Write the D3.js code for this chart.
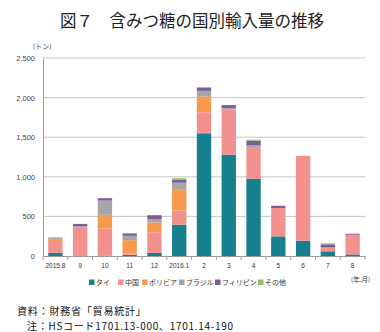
<!DOCTYPE html>
<html>
<head>
<meta charset="utf-8">
<script src="https://cdn.jsdelivr.net/npm/d3@7"></script>
<style>
  body { margin: 0; background: #fff; }
  svg { display: block; font-family: "Noto Sans CJK JP", "Noto Sans", sans-serif; }
</style>
</head>
<body>
<svg id="chart"></svg>
<script>
const months = ["2015.8", "9", "10", "11", "12", "2016.1", "2", "3", "4", "5", "6", "7", "8"]
const seriesNames = ["タイ", "中国", "ボリビア", "ブラジル", "フィリピン", "その他"]
const seriesColors = ["#17808f", "#f3918e", "#f79a4e", "#a6a6a6", "#7d5c9b", "#8fc06a"]
const thai     = [40, 0, 5, 15, 40, 395, 1550, 1280, 975, 248, 193, 59, 20]
const china    = [150, 365, 340, 15, 260, 180, 265, 567, 400, 357, 1071, 42, 248]
const bolivia  = [15, 0, 175, 170, 125, 260, 200, 0, 0, 0, 0, 0, 0]
const brazil   = [15, 10, 180, 55, 40, 90, 70, 20, 25, 0, 0, 12, 0]
const philip   = [5, 30, 30, 30, 50, 38, 40, 38, 58, 29, 0, 34, 13]
const others   = [10, 0, 0, 5, 0, 20, 10, 0, 10, 0, 0, 13, 0]
const yTicks = [0, 500, 1000, 1500, 2000, 2500]

const width = 380, height = 332
const margin = {left: 43, right: 15, top: 58, bottom: 76}

const svg = d3.select("#chart").attr("width", width).attr("height", height)

const rows = months.map((m, i) => ({
  month: m,
  "タイ": thai[i], "中国": china[i], "ボリビア": bolivia[i],
  "ブラジル": brazil[i], "フィリピン": philip[i], "その他": others[i]
}))

const x = d3.scaleBand()
  .domain(months)
  .range([margin.left, width - margin.right])
  .paddingInner(0.42)
  .paddingOuter(0.21)

const y = d3.scaleLinear()
  .domain([0, 2500])
  .range([height - margin.bottom, margin.top])

// title
svg.append("text")
  .attr("x", 192).attr("y", 27)
  .attr("text-anchor", "middle")
  .attr("font-size", 16.5)
  .attr("fill", "#222")
  .text("図７　含みつ糖の国別輸入量の推移")

svg.append("text")
  .attr("x", 33).attr("y", 49)
  .attr("font-size", 7)
  .attr("fill", "#444")
  .text("(トン)")

// gridlines
svg.append("g")
  .selectAll("line")
  .data(yTicks.filter(d => d > 0))
  .enter().append("line")
    .attr("x1", margin.left).attr("x2", width - margin.right)
    .attr("y1", d => y(d)).attr("y2", d => y(d))
    .attr("stroke", "#b8b8b8").attr("stroke-width", 0.8)

// y axis
const yAxis = svg.append("g")
  .attr("transform", "translate(" + margin.left + ",0)")
  .call(d3.axisLeft(y).tickValues(yTicks).tickSize(0).tickPadding(8).tickFormat(d3.format(",")))
yAxis.select(".domain").attr("stroke", "#999")
yAxis.selectAll("text").attr("font-size", 7.5).attr("fill", "#444").attr("font-family", "Liberation Sans, Arial, sans-serif")

// bars
const stack = d3.stack().keys(seriesNames)(rows)
svg.append("g")
  .selectAll("g")
  .data(stack)
  .enter().append("g")
    .attr("fill", (d, i) => seriesColors[i])
  .selectAll("rect")
  .data(d => d)
  .enter().append("rect")
    .attr("x", d => x(d.data.month))
    .attr("y", d => y(d[1]))
    .attr("width", x.bandwidth())
    .attr("height", d => y(d[0]) - y(d[1]))

// x axis
const step = x.step()
const xAxis = svg.append("g")
  .attr("transform", "translate(0," + y(0) + ")")
  .call(d3.axisBottom(x).tickSize(0).tickPadding(7))
xAxis.select(".domain").attr("stroke", "#999")
xAxis.selectAll("text").attr("font-size", 6.5).attr("fill", "#333").attr("font-family", "Liberation Sans, Arial, sans-serif")
xAxis.selectAll(".sep")
  .data(d3.range(months.length + 1))
  .enter().append("line")
    .attr("class", "sep")
    .attr("x1", i => margin.left + i * step).attr("x2", i => margin.left + i * step)
    .attr("y1", 0).attr("y2", 4)
    .attr("stroke", "#999")

svg.append("text")
  .attr("x", 351).attr("y", 282)
  .attr("font-size", 6.5)
  .attr("fill", "#333")
  .text("(年.月)")

// legend
const legendX = [89, 118, 142, 179, 215, 258]
const legend = svg.append("g")
  .selectAll("g")
  .data(seriesNames)
  .enter().append("g")
    .attr("transform", (d, i) => "translate(" + legendX[i] + ",285)")
legend.append("rect")
  .attr("x", 0).attr("y", -5.5).attr("width", 5.5).attr("height", 5.5)
  .attr("fill", (d, i) => seriesColors[i])
legend.append("text")
  .attr("x", 7).attr("y", 0)
  .attr("font-size", 7)
  .attr("fill", "#333")
  .text(d => d)

// notes
svg.append("text")
  .attr("x", 17).attr("y", 315)
  .attr("font-size", 10)
  .attr("letter-spacing", 0.8)
  .attr("fill", "#111")
  .text("資料：財務省「貿易統計」")
svg.append("text")
  .attr("x", 27).attr("y", 330)
  .attr("font-size", 10)
  .attr("letter-spacing", 0.7)
  .attr("fill", "#111")
  .text("注：HSコード1701.13-000、1701.14-190")
</script>
</body>
</html>
